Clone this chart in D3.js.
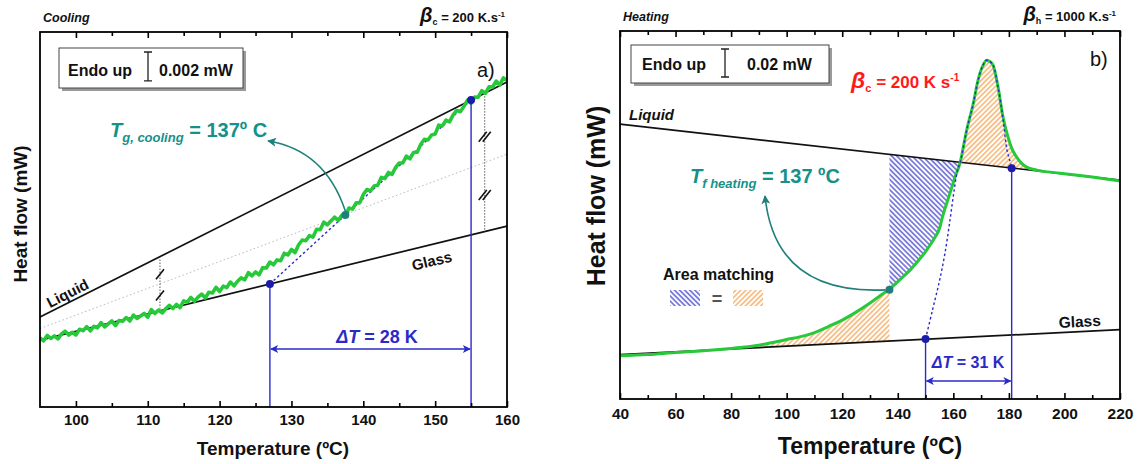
<!DOCTYPE html>
<html>
<head>
<meta charset="utf-8">
<script src="https://cdn.jsdelivr.net/npm/d3@7"></script>
<style>
  body { margin: 0; background: #fff; }
  svg { font-family: Arial, "Liberation Sans", sans-serif; }
</style>
</head>
<body>
<svg id="chart" width="1138" height="464"></svg>
<script>
// ---------- data : panel a) cooling (heat flow in µW, 2 µW = 0.002 mW) ----------
const coolTemp = d3.range(95, 160.01, 0.5);
const coolFlow = [4.79,4.59,4.96,4.75,4.93,4.72,5.07,5.26,4.99,5.18,4.99,5.39,5.29,5.57,5.28,5.59,5.49,5.85,5.55,5.76,
  5.97,5.64,5.99,5.94,6.20,5.96,6.37,6.14,6.31,6.49,6.23,6.75,6.48,6.72,6.52,6.81,7.05,6.83,7.11,6.89,
  7.36,7.27,7.60,7.34,7.62,7.83,7.56,7.95,7.91,8.30,8.01,8.38,8.28,8.66,8.40,8.72,8.95,8.82,9.31,9.09,
  9.37,9.17,9.66,9.64,10.05,9.86,10.20,10.14,10.66,10.54,10.92,10.71,11.25,11.58,11.53,11.88,11.78,12.32,12.29,12.81,
  12.63,12.89,13.16,12.93,13.29,13.26,13.79,13.72,14.15,14.15,14.73,15.08,14.98,15.32,15.38,15.92,15.84,16.26,16.13,16.62,
  16.92,16.92,17.39,17.21,17.65,17.67,18.22,18.56,18.51,18.86,18.92,19.54,19.49,19.89,19.77,20.25,20.56,20.47,20.84,21.27,
  21.05,21.49,21.48,21.93,21.75,22.20,22.19,22.60,22.33,22.82,22.65];
const coolLiquid = [[95, 6.24], [160, 22.53]];
const coolGlass = [[95, 4.64], [160, 12.54]];
const coolMiddle = [[95, 5.44], [160, 17.53]];
const coolTangent = [[127, 8.53], [155, 21.28]];
const coolTg = [137.5, 13.31];
const coolBreaks = [111.7, 156.9];
const coolTicks = [100, 110, 120, 130, 140, 150, 160];
const coolMinor = [105, 115, 125, 135, 145, 155];

// ---------- data : panel b) heating (heat flow in µW, 20 µW = 0.02 mW) ----------
const heatTemp = [40,50,60,70,80,85,90,95,100,105,110,115,120,125,130,134,137,141,144.4,147,
  150.4,153,155.2,155.8,158.8,160.5,162.4,164.8,167.2,168.9,170.7,172,173,174.3,176.1,177.9,179.7,181,182.8,184.5,
  186.4,190,198.4,210,220];
const heatFlow = [30.9,31.8,33.2,34.4,36.1,37.1,38.4,40.4,42.5,44.6,47.5,51.8,56.4,62.1,68.6,74.3,78.6,85.7,92.1,97.9,
  106.4,114.3,123.1,127.9,147.1,157.9,168.6,192.1,211.4,227.9,238.6,242.1,241.4,238.6,222.9,201.4,187.1,179.3,172.9,168.6,
  165.7,163.6,161.4,158.6,155.9];
const heatLiquid = [[40, 196.4], [220, 156.4]];
const heatGlass = [[40, 31.8], [220, 49.6]];
const heatDotted = [[150,42.9],[152.5,63.6],[155,84.3],[157,104.3],[158.8,127.9],[160.3,149.3],[161.5,163.6],
  [162.4,168.6],[164.8,192.1],[167.2,211.4],[168.9,227.9],[170.7,238.6],[172,242.1],[173,241.4],[174.3,238.6],
  [176.1,222.9],[177.9,200],[179.3,177.9],[180.3,170.7],[181,165.0]];
const heatOnset = [[150, 42.9], [181, 165.0]];
const heatTf = [137, 78.0];
const orangeLow = [90, 137], blueBand = [137, 162.4], orangeHigh = [162.4, 190];
const heatTicks = [40, 60, 80, 100, 120, 140, 160, 180, 200, 220];
const heatMinor = [50, 70, 90, 110, 130, 150, 170, 190, 210];

const GREEN = "#27c93a", BLUE = "#2a2ac8", TEAL = "#15918a", TEAL_D = "#1f7f7a";

const svg = d3.select("#chart");
const defs = svg.append("defs");

function hatch(id, color, angle) {
  const p = defs.append("pattern").attr("id", id).attr("patternUnits", "userSpaceOnUse")
    .attr("width", 3.6).attr("height", 3.6).attr("patternTransform", `rotate(${angle})`);
  p.append("line").attr("x1", 1.8).attr("x2", 1.8).attr("y1", -1).attr("y2", 4.6)
    .attr("stroke", color).attr("stroke-width", 1.2);
}
hatch("hatchBlue", "#3a3ac8", -45);
hatch("hatchOrange", "#f5a04c", 45);

function marker(id, color, len, wid) {
  defs.append("marker").attr("id", id).attr("viewBox", "0 0 10 10").attr("refX", 9).attr("refY", 5)
    .attr("markerUnits", "userSpaceOnUse").attr("markerWidth", len).attr("markerHeight", wid)
    .attr("orient", "auto-start-reverse")
    .append("path").attr("d", "M0,0 L10,5 L0,10 L2.5,5 z").attr("fill", color);
}
marker("arrBlue", BLUE, 12, 8);
marker("arrTeal", TEAL_D, 11, 9);

const xA = d3.scaleLinear().domain([95, 160]).range([40, 507]);
const yA = d3.scaleLinear().domain([0, 26]).range([407, 32]);
const xB = d3.scaleLinear().domain([40, 220]).range([620, 1120]);
const yB = d3.scaleLinear().domain([0, 263]).range([399, 31]);

function frame(x, y, major, minor, fs, pad) {
  const bottom = y.range()[0], top = y.range()[1];
  const put = (axis, pos, vals, size, labels) => {
    const a = svg.append("g").attr("transform", `translate(0,${pos})`)
      .call(axis(x).tickValues(vals).tickSizeInner(size).tickSizeOuter(0).tickPadding(pad)
        .tickFormat(labels ? d3.format("d") : ""));
    a.select(".domain").remove();
    a.selectAll("line").attr("stroke", "#000").attr("stroke-width", 1.6);
    a.selectAll("text").attr("font-size", fs).attr("font-weight", "bold").attr("fill", "#111")
      .attr("font-family", "Arial, 'Liberation Sans', sans-serif");
  };
  put(d3.axisBottom, bottom, major, -6, true);
  put(d3.axisBottom, bottom, minor, -4, false);
  put(d3.axisTop, top, major, -6, false);
  put(d3.axisTop, top, minor, -4, false);
  svg.append("rect").attr("x", x.range()[0]).attr("y", top)
    .attr("width", x.range()[1] - x.range()[0]).attr("height", bottom - top)
    .attr("fill", "none").attr("stroke", "#000").attr("stroke-width", 1.8);
}

// rich text: parts = [text, {it, fs, dy, fill}]
function rich(x, y, anchor, size, fill, parts, transform) {
  const t = svg.append("text").attr("x", x).attr("y", y).attr("text-anchor", anchor)
    .attr("font-size", size).attr("font-weight", "bold").attr("fill", fill);
  if (transform) t.attr("transform", transform);
  parts.forEach(([s, o]) => {
    const sp = t.append("tspan").text(s);
    if (o && o.it) sp.attr("font-style", "italic");
    if (o && o.fs) sp.attr("font-size", o.fs);
    if (o && o.dy) sp.attr("dy", o.dy);
    if (o && o.fill) sp.attr("fill", o.fill);
  });
  return t;
}

function legendBox(x, y, w, h, barX, barTop, barH, fs, textX, valueX, value, base) {
  svg.append("rect").attr("x", x + 3).attr("y", y + 3).attr("width", w).attr("height", h).attr("fill", "#9a9a9a");
  svg.append("rect").attr("x", x).attr("y", y).attr("width", w).attr("height", h)
    .attr("fill", "#fff").attr("stroke", "#444").attr("stroke-width", 1);
  rich(textX, base, "start", fs, "#111", [["Endo up"]]);
  svg.append("path").attr("d", `M${barX - 4},${barTop}H${barX + 4}M${barX},${barTop}V${barTop + barH}M${barX - 4},${barTop + barH}H${barX + 4}`)
    .attr("stroke", "#222").attr("stroke-width", 1.3).attr("fill", "none");
  rich(valueX, base, "start", fs, "#111", [[value]]);
}

// =================== panel a) ===================
const lineA = d3.line().x(d => xA(d[0])).y(d => yA(d[1]));

svg.append("path").attr("d", lineA(coolMiddle)).attr("stroke", "#b8b8b8").attr("stroke-width", 1)
  .attr("stroke-dasharray", "1.5,2.5").attr("fill", "none");
[coolLiquid, coolGlass].forEach(l => svg.append("path").attr("d", lineA(l))
  .attr("stroke", "#111").attr("stroke-width", 1.7).attr("fill", "none"));
svg.append("path").attr("d", lineA(coolTangent)).attr("stroke", BLUE).attr("stroke-width", 1.4)
  .attr("stroke-dasharray", "2.5,2.5").attr("fill", "none");

svg.append("path").datum(coolTemp.map((t, i) => [t, coolFlow[i]]))
  .attr("d", lineA).attr("stroke", GREEN).attr("stroke-width", 3.6)
  .attr("stroke-linejoin", "round").attr("fill", "none");

// break marks between liquid and glass
const lerp = (l, t) => l[0][1] + (t - l[0][0]) / (l[1][0] - l[0][0]) * (l[1][1] - l[0][1]);
coolBreaks.forEach((t, k) => {
  const top = lerp(coolLiquid, t) - 0.2, bot = k === 0 ? lerp(coolGlass, t) + 0.15 : lerp(coolGlass, t);
  svg.append("line").attr("x1", xA(t)).attr("x2", xA(t)).attr("y1", yA(top)).attr("y2", yA(bot))
    .attr("stroke", "#333").attr("stroke-width", 0.8).attr("stroke-dasharray", "1.5,1.5");
  [0.3, 0.73].forEach(f => {
    const yc = yA(bot + (top - bot) * (1 - f));
    const offs = k === 0 ? [0] : [-2, 2];
    offs.forEach(o => svg.append("line")
      .attr("x1", xA(t) - 4 + o).attr("y1", yc + 5).attr("x2", xA(t) + 4 + o).attr("y2", yc - 5)
      .attr("stroke", "#111").attr("stroke-width", 1.6));
  });
});

// onset lines, ΔT arrow
coolTangent.forEach(d => svg.append("line").attr("x1", xA(d[0])).attr("x2", xA(d[0]))
  .attr("y1", yA(d[1])).attr("y2", yA(0)).attr("stroke", BLUE).attr("stroke-width", 1.4));
svg.append("line").attr("x1", xA(coolTangent[0][0]) + 1).attr("x2", xA(coolTangent[1][0]) - 1)
  .attr("y1", 349).attr("y2", 349).attr("stroke", BLUE).attr("stroke-width", 1.4)
  .attr("marker-start", "url(#arrBlue)").attr("marker-end", "url(#arrBlue)");
coolTangent.forEach(d => svg.append("circle").attr("cx", xA(d[0])).attr("cy", yA(d[1])).attr("r", 4).attr("fill", "#1c1caa"));
rich(377, 343, "middle", 18, BLUE, [["Δ", {it: 1}], ["T", {it: 1}], [" = 28 K"]]);

// Tg marker and arrow
svg.append("circle").attr("cx", xA(coolTg[0])).attr("cy", yA(coolTg[1])).attr("r", 4).attr("fill", TEAL_D);
svg.append("path").attr("d", `M${xA(coolTg[0])},${yA(coolTg[1]) - 4} Q325,150 268,141`)
  .attr("stroke", TEAL_D).attr("stroke-width", 1.6).attr("fill", "none").attr("marker-end", "url(#arrTeal)");
rich(110, 137, "start", 20, TEAL, [["T", {it: 1}], ["g, cooling", {it: 1, fs: 13, dy: 5}], [" = 137º C", {dy: -5}]]);

rich(70, 298, "middle", 15, "#111", [["Liquid"]], "rotate(-27,70,298)");
rich(433, 266, "middle", 15, "#111", [["Glass"]], "rotate(-13.5,433,266)");

frame(xA, yA, coolTicks, coolMinor, 15, 7.4);
legendBox(59, 48, 184, 40, 148, 52, yA(0) - yA(2), 16, 68, 159, "0.002 mW", 76);
svg.append("text").attr("x", 477).attr("y", 77).attr("font-size", 20).attr("fill", "#111").text("a)");
rich(43, 22, "start", 12.5, "#111", [["Cooling", {it: 1}]]);
rich(505, 22, "end", 13, "#111", [["β", {it: 1, fs: 20}], ["c", {fs: 9, dy: 3}], [" = 200 K.s", {dy: -3}], ["-1", {fs: 8, dy: -5}]]);
rich(27, 214, "middle", 19, "#111", [["Heat flow (mW)"]], "rotate(-90,27,214)");
rich(273, 455, "middle", 19, "#111", [["Temperature (ºC)"]]);

// =================== panel b) ===================
const heatPts = heatTemp.map((t, i) => [t, heatFlow[i]]);
const heatAt = t => {
  const i = d3.bisector(d => d[0]).left(heatPts, t);
  if (i <= 0) return heatPts[0][1];
  const a = heatPts[i - 1], b = heatPts[i];
  return a[1] + (t - a[0]) / (b[0] - a[0]) * (b[1] - a[1]);
};
const band = ([t0, t1], base) => {
  const pts = [[t0, heatAt(t0)], ...heatPts.filter(d => d[0] > t0 && d[0] < t1), [t1, heatAt(t1)]];
  return pts.map(d => [d[0], d[1], lerp(base, d[0])]);
};
const areaB = d3.area().x(d => xB(d[0])).y0(d => yB(d[2])).y1(d => yB(d[1])).curve(d3.curveMonotoneX);

svg.append("path").attr("d", areaB(band(orangeLow, heatGlass))).attr("fill", "url(#hatchOrange)");
svg.append("path").attr("d", areaB(band(blueBand, heatLiquid))).attr("fill", "url(#hatchBlue)");
svg.append("path").attr("d", areaB(band(orangeHigh, heatLiquid))).attr("fill", "url(#hatchOrange)");

const lineB = d3.line().x(d => xB(d[0])).y(d => yB(d[1]));
[heatLiquid, heatGlass].forEach(l => svg.append("path").attr("d", lineB(l))
  .attr("stroke", "#111").attr("stroke-width", 1.7).attr("fill", "none"));
svg.append("path").attr("d", d3.line().x(d => xB(d[0])).y(d => yB(d[1])).curve(d3.curveMonotoneX)(heatPts))
  .attr("stroke", GREEN).attr("stroke-width", 3).attr("fill", "none");
svg.append("path").attr("d", d3.line().x(d => xB(d[0])).y(d => yB(d[1])).curve(d3.curveCatmullRom)(heatDotted))
  .attr("stroke", BLUE).attr("stroke-width", 1.4).attr("stroke-dasharray", "2.5,2.5").attr("fill", "none");

heatOnset.forEach(d => svg.append("line").attr("x1", xB(d[0])).attr("x2", xB(d[0]))
  .attr("y1", yB(d[1])).attr("y2", yB(0)).attr("stroke", BLUE).attr("stroke-width", 1.4));
svg.append("line").attr("x1", xB(heatOnset[0][0]) + 1).attr("x2", xB(heatOnset[1][0]) - 1)
  .attr("y1", 381).attr("y2", 381).attr("stroke", BLUE).attr("stroke-width", 1.4)
  .attr("marker-start", "url(#arrBlue)").attr("marker-end", "url(#arrBlue)");
heatOnset.forEach(d => svg.append("circle").attr("cx", xB(d[0])).attr("cy", yB(d[1])).attr("r", 4).attr("fill", "#1c1caa"));
rich(968, 368, "middle", 16, BLUE, [["Δ", {it: 1}], ["T", {it: 1}], [" = 31 K"]]);

svg.append("circle").attr("cx", xB(heatTf[0])).attr("cy", yB(heatTf[1])).attr("r", 4).attr("fill", TEAL_D);
svg.append("path").attr("d", `M${xB(heatTf[0]) - 4},${yB(heatTf[1])} Q775,295 765,196`)
  .attr("stroke", TEAL_D).attr("stroke-width", 1.6).attr("fill", "none").attr("marker-end", "url(#arrTeal)");
rich(690, 183, "start", 20, TEAL, [["T", {it: 1}], ["f heating", {it: 1, fs: 13, dy: 5}], [" = 137 ºC", {dy: -5}]]);

rich(663, 280, "start", 16, "#111", [["Area matching"]]);
svg.append("rect").attr("x", 670).attr("y", 290).attr("width", 30).attr("height", 16).attr("fill", "url(#hatchBlue)");
svg.append("rect").attr("x", 733).attr("y", 290).attr("width", 30).attr("height", 16).attr("fill", "url(#hatchOrange)");
rich(717, 305, "middle", 18, "#555", [["="]]);

rich(629, 120, "start", 15, "#111", [["Liquid", {it: 1}]]);
rich(1080, 327, "middle", 15.5, "#111", [["Glass"]], "rotate(-3,1080,327)");
rich(851, 88, "start", 17, "#ff1a1a", [["β", {it: 1, fs: 23}], ["c", {fs: 11, dy: 4}], [" = 200 K s", {dy: -4}], ["-1", {fs: 10, dy: -7}]]);

frame(xB, yB, heatTicks, heatMinor, 15.5, 9.3);
legendBox(631, 45, 198, 38, 725, 49, yB(0) - yB(20), 16, 642, 747, "0.02 mW", 70);
svg.append("text").attr("x", 1090).attr("y", 66).attr("font-size", 20).attr("fill", "#111").text("b)");
rich(623, 21, "start", 12.5, "#111", [["Heating", {it: 1}]]);
rich(1116, 21, "end", 13, "#111", [["β", {it: 1, fs: 20}], ["h", {fs: 9, dy: 3}], [" = 1000 K.s", {dy: -3}], ["-1", {fs: 8, dy: -5}]]);
rich(605, 196, "middle", 25, "#111", [["Heat flow (mW)"]], "rotate(-90,605,196)");
rich(870, 454, "middle", 23, "#111", [["Temperature (ºC)"]]);
</script>
</body>
</html>
